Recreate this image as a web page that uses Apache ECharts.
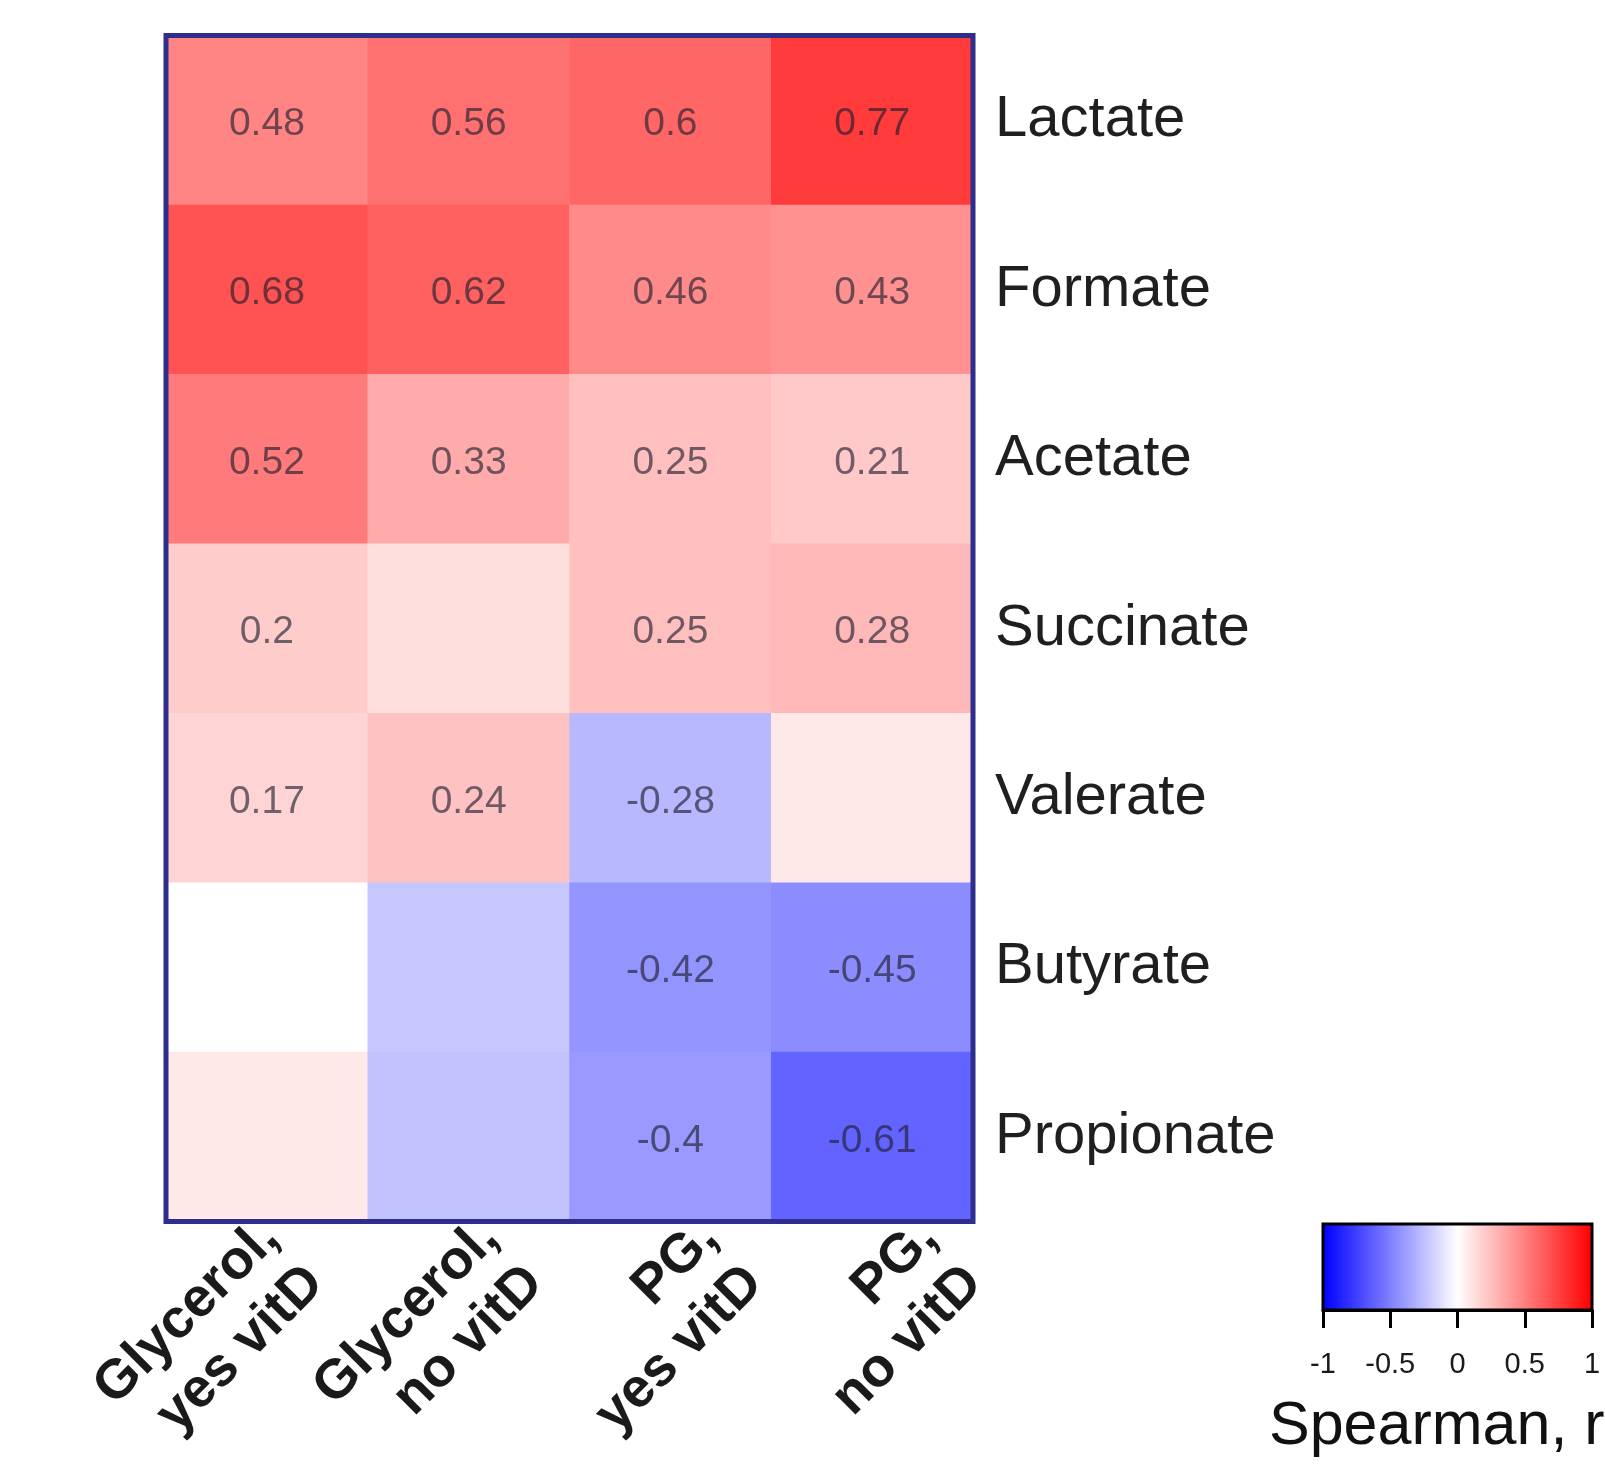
<!DOCTYPE html>
<html>
<head>
<meta charset="utf-8">
<title>Spearman correlation heatmap</title>
<script src="https://cdn.jsdelivr.net/npm/echarts@6/dist/echarts.min.js"></script>
<style>
  html, body { margin: 0; padding: 0; background: #ffffff; }
  #chart { width: 1605px; height: 1466px; }
</style>
</head>
<body>
<div id="chart"></div>
<script>
// Short-chain fatty acids (rows, top to bottom)
const metabolites = ['Lactate', 'Formate', 'Acetate', 'Succinate', 'Valerate', 'Butyrate', 'Propionate'];

// Feeding conditions (columns)
const conditions = ['Glycerol,\nyes vitD', 'Glycerol,\nno vitD', 'PG,\nyes vitD', 'PG,\nno vitD'];

// Spearman r per condition, in metabolite order
const rhoGlycerolVitD   = [0.48, 0.68, 0.52, 0.20, 0.17, 0.00, 0.09];
const rhoGlycerolNoVitD = [0.56, 0.62, 0.33, 0.13, 0.24, -0.22, -0.24];
const rhoPGVitD         = [0.60, 0.46, 0.25, 0.25, -0.28, -0.42, -0.40];
const rhoPGNoVitD       = [0.77, 0.43, 0.21, 0.28, 0.09, -0.45, -0.61];

// 1 = coefficient printed in the cell, 0 = left unlabelled
const shownGlycerolVitD   = [1, 1, 1, 1, 1, 0, 0];
const shownGlycerolNoVitD = [1, 1, 1, 0, 1, 0, 0];
const shownPGVitD         = [1, 1, 1, 1, 1, 1, 1];
const shownPGNoVitD       = [1, 1, 1, 1, 0, 1, 1];

// Colour-bar scale
const colorbarTicks = [-1, -0.5, 0, 0.5, 1];

const rhoByCondition = [rhoGlycerolVitD, rhoGlycerolNoVitD, rhoPGVitD, rhoPGNoVitD];
const shownByCondition = [shownGlycerolVitD, shownGlycerolNoVitD, shownPGVitD, shownPGNoVitD];

const cells = [];
rhoByCondition.forEach((col, x) => {
  col.forEach((r, y) => {
    cells.push([x, y, r, shownByCondition[x][y]]);
  });
});

const SANS = "'Liberation Sans', Arial, sans-serif";

const chart = echarts.init(document.getElementById('chart'), null, { renderer: 'canvas' });

chart.setOption({
  backgroundColor: '#ffffff',
  animation: false,
  title: {
    text: 'Spearman, r',
    left: 1269,
    top: 1397,
    padding: 0,
    textStyle: { fontFamily: SANS, fontSize: 61, fontWeight: 'normal', color: '#111111' }
  },
  grid: [
    // heatmap
    { left: 166, top: 35.5, width: 807, height: 1186, show: true, z: 10,
      backgroundColor: 'transparent', borderColor: '#2e2e8c', borderWidth: 5 },
    // column captions
    { left: 183, top: 35.5, width: 878, height: 1186, show: false },
    // colour bar frame and scale
    { left: 1323, top: 1224, width: 269, height: 86, show: true, z: 10,
      backgroundColor: 'transparent', borderColor: '#000000', borderWidth: 3 }
  ],
  xAxis: [
    { type: 'category', gridIndex: 0, data: conditions,
      axisLine: { show: false }, axisTick: { show: false }, axisLabel: { show: false },
      splitLine: { show: false } },
    { type: 'category', gridIndex: 1, data: conditions, position: 'bottom',
      axisLine: { show: false }, axisTick: { show: false }, splitLine: { show: false },
      axisLabel: { interval: 0, rotate: 45, margin: 54, fontFamily: SANS, fontSize: 55,
        fontWeight: 'bold', lineHeight: 64, color: '#1a1a1a' } },
    { type: 'value', gridIndex: 2, min: colorbarTicks[0], max: colorbarTicks[colorbarTicks.length - 1],
      interval: 0.5, position: 'bottom',
      axisLine: { show: true, lineStyle: { color: '#000000', width: 3 } },
      axisTick: { show: true, length: 18, lineStyle: { color: '#000000', width: 3 } },
      splitLine: { show: false },
      axisLabel: { margin: 40, fontFamily: SANS, fontSize: 29, color: '#1a1a1a',
        formatter: v => String(v) } }
  ],
  yAxis: [
    { type: 'category', gridIndex: 0, data: metabolites, inverse: true, position: 'right',
      axisLine: { show: false }, axisTick: { show: false }, splitLine: { show: false },
      axisLabel: { margin: 22, fontFamily: SANS, fontSize: 58, color: '#1f1f1f' } },
    { type: 'category', gridIndex: 1, data: metabolites, show: false },
    { type: 'value', gridIndex: 2, min: 0, max: 1, show: false }
  ],
  visualMap: {
    type: 'continuous',
    seriesIndex: 0,
    dimension: 2,
    min: -1,
    max: 1,
    orient: 'horizontal',
    left: 1323,
    top: 1224,
    itemWidth: 86,
    itemHeight: 269,
    padding: 0,
    calculable: false,
    hoverLink: false,
    inRange: { color: ['#0000ff', '#ffffff', '#ff0000'] }
  },
  series: [
    {
      type: 'heatmap',
      xAxisIndex: 0,
      yAxisIndex: 0,
      data: cells,
      emphasis: { disabled: true },
      label: {
        show: true,
        offset: [0, 4],
        fontFamily: SANS,
        fontSize: 39,
        color: 'rgba(30, 30, 45, 0.64)',
        formatter: p => (p.value[3] ? String(p.value[2]) : '')
      }
    }
  ]
});
</script>
</body>
</html>
